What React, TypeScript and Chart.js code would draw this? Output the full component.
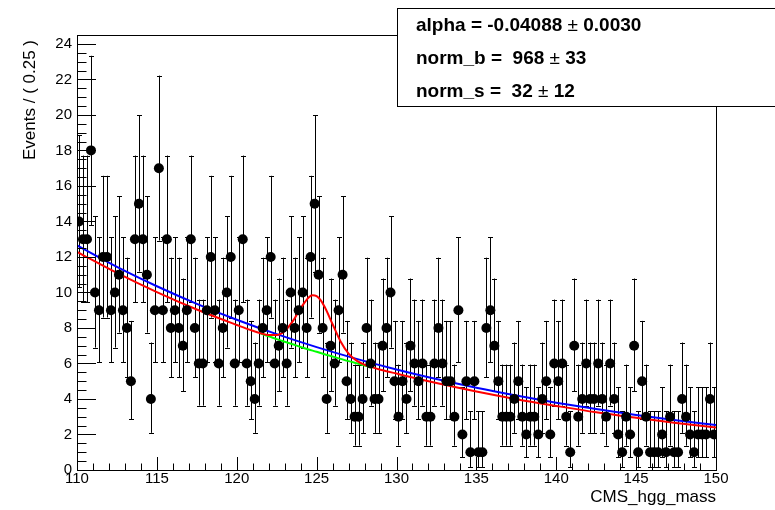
import React, { useEffect, useRef } from "react";
import { Chart, registerables } from "chart.js";

Chart.register(...registerables);

// ---- data ----
const binLow = 110;
const binWidth = 0.25;
const counts = [
  14, 13, 13, 18, 10, 9, 12, 12, 9, 10, 11, 9, 8, 5, 13, 15, 13, 11, 4, 9,
  17, 9, 13, 8, 9, 8, 7, 9, 13, 8, 6, 6, 9, 12, 9, 6, 8, 10, 12, 6,
  9, 13, 6, 5, 4, 6, 8, 9, 12, 6, 7, 8, 6, 10, 8, 9, 10, 8, 12, 15,
  11, 8, 4, 7, 6, 9, 11, 5, 4, 3, 3, 4, 8, 6, 4, 4, 7, 8, 10, 5,
  3, 5, 4, 7, 6, 5, 6, 3, 3, 6, 8, 6, 5, 5, 3, 9, 2, 5, 1, 5,
  1, 1, 8, 9, 7, 5, 3, 3, 3, 4, 5, 3, 2, 3, 3, 2, 4, 5, 2, 6,
  5, 6, 3, 1, 7, 3, 4, 6, 4, 4, 6, 4, 3, 6, 4, 2, 1, 3, 2, 7,
  1, 5, 3, 1, 1, 1, 2, 1, 3, 1, 1, 4, 3, 2, 1, 2, 2, 2, 4, 2,
];

const blueX = [110, 112.5, 115, 117.5, 120, 122.5, 125, 127.5, 130, 132.5, 135, 137.5, 140, 142.5, 145, 147.5, 150];
const blueY = [12.65, 11.44, 10.35, 9.36, 8.46, 7.65, 6.92, 6.26, 5.66, 5.12, 4.63, 4.19, 3.79, 3.43, 3.10, 2.80, 2.53];

const redX = [110, 112.5, 115, 117.5, 120, 121, 121.5, 122, 122.5, 123, 123.5, 124, 124.5, 124.75, 125, 125.25, 125.5, 126, 126.5, 127, 127.5, 128, 128.5, 129, 130, 132.5, 135, 137.5, 140, 142.5, 145, 147.5, 150];
const redY = [12.29, 11.10, 10.02, 9.04, 8.17, 7.84, 7.70, 7.60, 7.60, 7.83, 8.37, 9.11, 9.72, 9.84, 9.79, 9.57, 9.19, 8.21, 7.24, 6.56, 6.16, 5.93, 5.78, 5.65, 5.43, 4.90, 4.42, 3.99, 3.61, 3.25, 2.94, 2.65, 2.40];

const greenX = [121.5, 122, 122.5, 123, 123.5, 124, 124.5, 125, 125.5, 126, 126.5, 127, 127.5, 128, 128.5];
const greenY = [7.68, 7.53, 7.37, 7.22, 7.08, 6.93, 6.79, 6.66, 6.52, 6.39, 6.26, 6.13, 6.01, 5.89, 5.77];

const xTicks = [110, 115, 120, 125, 130, 135, 140, 145, 150];
const yTicks = [0, 2, 4, 6, 8, 10, 12, 14, 16, 18, 20, 22, 24];

const statLines = [
  ["alpha = -0.04088 ", "\u00b1", " 0.0030"],
  ["norm_b =  968 ", "\u00b1", " 33"],
  ["norm_s =  32 ", "\u00b1", " 12"],
];
const xTitle = "CMS_hgg_mass";
const yTitle = "Events / ( 0.25 )";

const FONT = "'Liberation Sans', Arial, Helvetica, sans-serif";

function poissonInterval(n: number): [number, number] {
  if (n <= 0) return [0, 1.841];
  const hi = n + Math.sqrt(n + 0.75) + 1;
  const lo = n * Math.pow(1 - 1 / (9 * n) - 1 / (3 * Math.sqrt(n)), 3);
  return [lo, hi];
}

const rootPlugin = {
  id: "rootStyle",
  beforeDatasetsDraw(chart: any) {
    const { ctx, scales } = chart;
    const xs = scales.x;
    const ys = scales.y;
    ctx.save();
    ctx.strokeStyle = "#000";
    ctx.lineWidth = 1;
    counts.forEach((c, i) => {
      const xv = binLow + binWidth * (i + 0.5);
      const [lo, hi] = poissonInterval(c);
      const px = Math.round(xs.getPixelForValue(xv)) + 0.5;
      const pl = ys.getPixelForValue(lo);
      const ph = ys.getPixelForValue(hi);
      ctx.beginPath();
      ctx.moveTo(px, pl);
      ctx.lineTo(px, ph);
      ctx.moveTo(px - 2.5, Math.round(pl) + 0.5);
      ctx.lineTo(px + 2.5, Math.round(pl) + 0.5);
      ctx.moveTo(px - 2.5, Math.round(ph) + 0.5);
      ctx.lineTo(px + 2.5, Math.round(ph) + 0.5);
      ctx.stroke();
    });
    ctx.restore();
  },
  afterDraw(chart: any) {
    const { ctx, scales, chartArea } = chart;
    const xs = scales.x;
    const ys = scales.y;
    const { left, right, top, bottom } = chartArea;
    ctx.save();
    ctx.strokeStyle = "#000";
    ctx.lineWidth = 1;
    // frame
    ctx.strokeRect(Math.round(left) + 0.5, Math.round(top) + 0.5, Math.round(right - left), Math.round(bottom - top));
    // y ticks
    ctx.beginPath();
    for (let v = 0; v <= ys.max + 1e-9; v += 0.5) {
      const py = Math.round(ys.getPixelForValue(v)) + 0.5;
      const major = Math.abs(v / 2 - Math.round(v / 2)) < 1e-9;
      const len = major ? 19 : 9.5;
      ctx.moveTo(left, py);
      ctx.lineTo(left + len, py);
    }
    // x ticks
    for (let v = 110; v <= 150 + 1e-9; v += 1) {
      const px = Math.round(xs.getPixelForValue(v)) + 0.5;
      const major = v % 5 === 0;
      const len = major ? 13 : 6.5;
      ctx.moveTo(px, bottom);
      ctx.lineTo(px, bottom - len);
    }
    ctx.stroke();

    // axis titles
    ctx.fillStyle = "#000";
    ctx.font = `17px ${FONT}`;
    ctx.textAlign = "right";
    ctx.textBaseline = "alphabetic";
    ctx.fillText(xTitle, right, 502);
    ctx.save();
    ctx.translate(35, top + 5);
    ctx.rotate(-Math.PI / 2);
    ctx.textAlign = "right";
    ctx.fillText(yTitle, 0, 0);
    ctx.restore();

    // stats box
    ctx.fillStyle = "#fff";
    ctx.fillRect(397, 8, 400, 98);
    ctx.strokeRect(397.5, 8.5, 400, 98);
    ctx.fillStyle = "#000";
    ctx.textAlign = "left";
    const baselines = [31, 63.5, 96.5];
    statLines.forEach((parts, i) => {
      let x = 416;
      parts.forEach((p, j) => {
        ctx.font = j === 1 ? `19px ${FONT}` : `bold 19px ${FONT}`;
        ctx.fillText(p, x, baselines[i]);
        x += ctx.measureText(p).width;
      });
    });
    ctx.restore();
  },
};

export default function App() {
  const ref = useRef<HTMLCanvasElement | null>(null);
  useEffect(() => {
    document.body.style.margin = "0";
    const canvas = ref.current;
    if (!canvas) return;
    Chart.defaults.font.family = FONT;
    const pts = counts.map((c, i) => ({ x: binLow + binWidth * (i + 0.5), y: c }));
    const toXY = (xa: number[], ya: number[]) => xa.map((x, i) => ({ x, y: ya[i] }));
    const lineBase = {
      showLine: true,
      pointRadius: 0,
      borderWidth: 2,
      fill: false,
      cubicInterpolationMode: "monotone" as const,
    };
    const chart = new Chart(canvas, {
      type: "scatter",
      data: {
        datasets: [
          {
            label: "data",
            data: pts,
            pointRadius: 5,
            pointBackgroundColor: "#000",
            pointBorderWidth: 0,
            order: 0,
          } as any,
          { label: "red", data: toXY(redX, redY), borderColor: "#ff0000", order: 1, ...lineBase } as any,
          { label: "blue", data: toXY(blueX, blueY), borderColor: "#0000ff", order: 2, ...lineBase } as any,
          { label: "green", data: toXY(greenX, greenY), borderColor: "#00ff00", order: 3, ...lineBase } as any,
        ],
      },
      options: {
        animation: false,
        responsive: false,
        maintainAspectRatio: false,
        layout: { padding: { top: 35, right: 59, left: 0, bottom: 0 } },
        plugins: { legend: { display: false }, tooltip: { enabled: false }, title: { display: false } },
        scales: {
          x: {
            type: "linear",
            min: 110,
            max: 150,
            afterBuildTicks: (s: any) => {
              s.ticks = xTicks.map((v) => ({ value: v }));
            },
            afterFit: (s: any) => {
              s.height = 40;
            },
            grid: { display: false, drawTicks: false },
            border: { display: false },
            ticks: {
              color: "#000",
              font: { size: 15 },
              padding: 0,
              maxRotation: 0,
              autoSkip: false,
              callback: (v: any) => String(v),
            },
          },
          y: {
            type: "linear",
            min: 0,
            max: 24.5,
            afterBuildTicks: (s: any) => {
              s.ticks = yTicks.map((v) => ({ value: v }));
            },
            afterFit: (s: any) => {
              s.width = 77;
            },
            grid: { display: false, drawTicks: false },
            border: { display: false },
            ticks: {
              color: "#000",
              font: { size: 15 },
              padding: 5,
              autoSkip: false,
              callback: (v: any) => String(v),
            },
          },
        },
      },
      plugins: [rootPlugin],
    });
    return () => chart.destroy();
  }, []);
  return <canvas ref={ref} width={775} height={510} style={{ display: "block", width: 775, height: 510 }} />;
}
